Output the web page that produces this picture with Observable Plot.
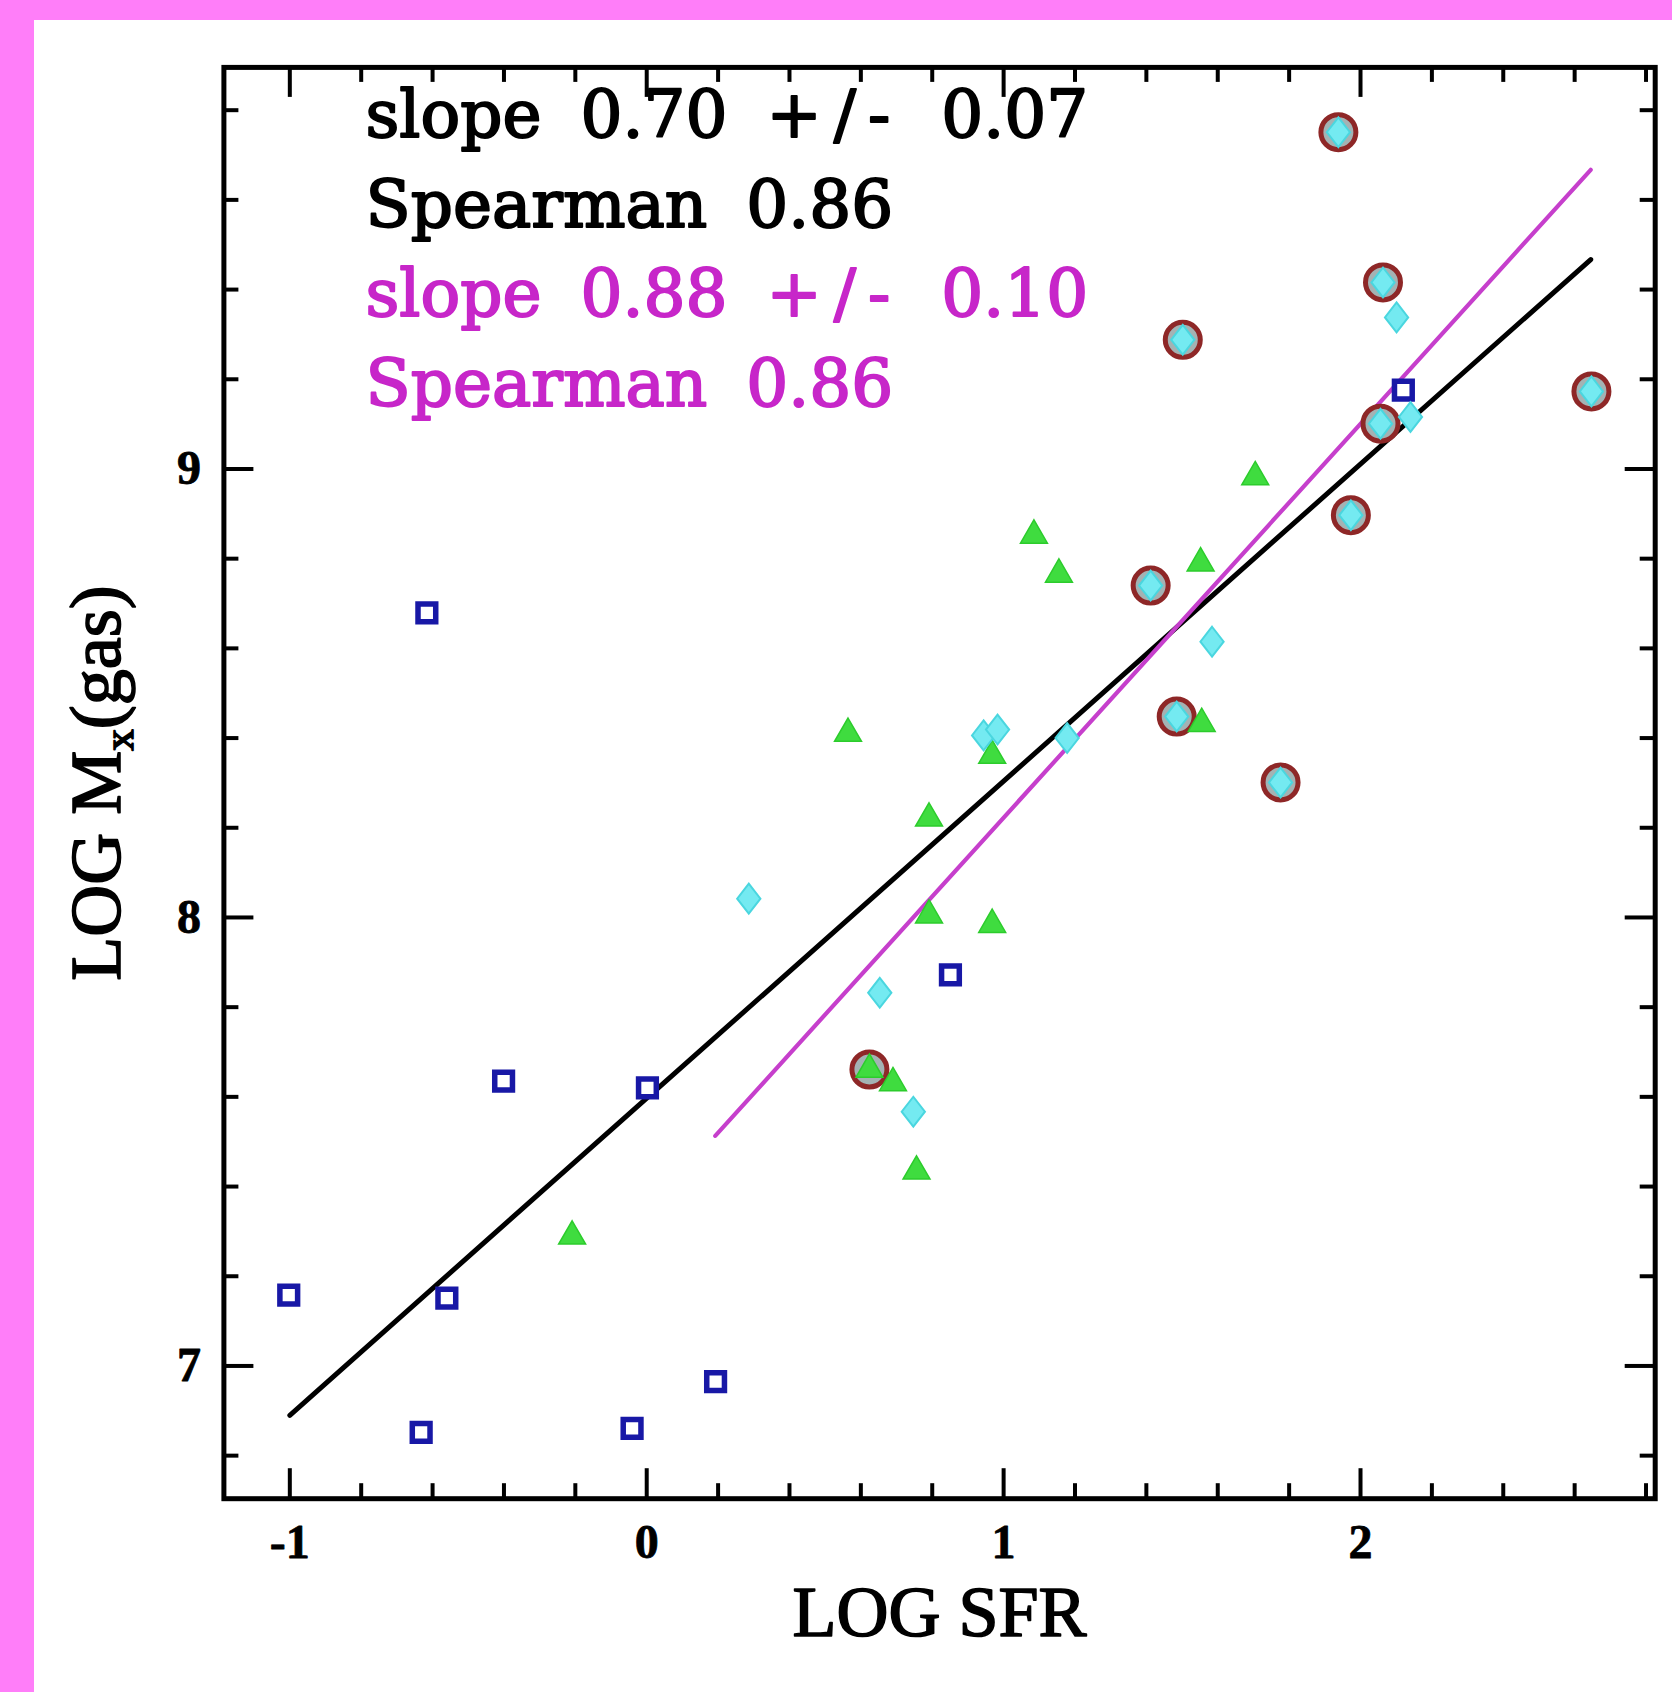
<!DOCTYPE html>
<html>
<head>
<meta charset="utf-8">
<script src="https://cdn.jsdelivr.net/npm/d3@7"></script>
<script src="https://cdn.jsdelivr.net/npm/@observablehq/plot@0.6"></script>
<style>
  html, body { margin: 0; padding: 0; background: #ff7ef9; overflow: hidden; width: 1672px; height: 1692px; }
  #page { position: absolute; left: 34px; top: 20px; width: 1638px; height: 1672px; background: #ffffff; }
</style>
</head>
<body>
<div id="page"></div>
<script>
// ---------- data ----------
const blueX = [-0.616, -1.003, -0.560, -0.401, 0.002, -0.632, -0.041, 0.193, 0.851, 2.120];
const blueY = [8.679, 7.158, 7.151, 7.635, 7.620, 6.852, 6.861, 6.965, 7.872, 9.176];

const greenX = [-0.209, 0.564, 0.968, 0.791, 0.791, 0.968, 0.624, 0.690, 0.756, 1.085, 1.155, 1.552, 1.705, 1.555];
const greenY = [7.289, 8.410, 8.361, 8.221, 8.005, 7.984, 7.661, 7.631, 7.434, 8.852, 8.765, 8.790, 8.982, 8.432];

const cyanX = [2.101, 2.140, 1.584, 1.178, 0.944, 0.983, 0.286, 0.653, 0.747,
               1.938, 2.063, 1.502, 2.647, 2.056, 1.973, 1.412, 1.485, 1.776];
const cyanY = [9.338, 9.116, 8.615, 8.400, 8.406, 8.419, 8.042, 7.832, 7.567,
               9.751, 9.416, 9.288, 9.173, 9.101, 8.897, 8.740, 8.448, 8.301];

const circledX = [1.938, 2.063, 1.502, 2.647, 2.056, 1.973, 1.412, 1.485, 1.776, 0.624];
const circledY = [9.751, 9.416, 9.288, 9.173, 9.101, 8.897, 8.740, 8.448, 8.301, 7.661];

const blackFitX = [-1.000, 2.645];
const blackFitY = [6.890, 9.467];
const magentaFitX = [0.192, 2.645];
const magentaFitY = [7.513, 9.667];

const annotBlack = ["slope 0.70 +/- 0.07", "Spearman 0.86"];
const annotMagenta = ["slope 0.88 +/- 0.10", "Spearman 0.86"];

const xTitle = "LOG SFR";
const yTitle = "LOG M\u2093(gas)";

const xMajorTicks = [-1, 0, 1, 2];
const xTickLabels = ["-1", "0", "1", "2"];
const xMinorTicks = [-0.8, -0.6, -0.4, -0.2, 0.2, 0.4, 0.6, 0.8, 1.2, 1.4, 1.6, 1.8, 2.2, 2.4, 2.6, 2.8];
const yMajorTicks = [7, 8, 9];
const yTickLabels = ["7", "8", "9"];
const yMinorTicks = [6.8, 7.2, 7.4, 7.6, 7.8, 8.2, 8.4, 8.6, 8.8, 9.2, 9.4, 9.6, 9.8];

const xDomain = [-1.1847, 2.8257];
const yDomain = [6.704, 9.8954];

// ---------- layout ----------
const W = 1638, H = 1672;
const mL = 189.4, mR = 17.3, mT = 46.9, mB = 193.8;
const frameW = W - mL - mR, frameH = H - mT - mB;
const majorLen = 30, minorLen = 15;

const toPts = (xs, ys) => xs.map((x, i) => ({x, y: ys[i]}));
const blue = toPts(blueX, blueY);
const green = toPts(greenX, greenY);
const cyan = toPts(cyanX, cyanY);
const circled = toPts(circledX, circledY);
const blackFit = toPts(blackFitX, blackFitY);
const magentaFit = toPts(magentaFitX, magentaFitY);

// a slightly tall diamond, like the reference's
const tallDiamond = {
  draw(context, size) {
    const a = Math.sqrt(size / 1.56), b = 0.78 * a;
    context.moveTo(0, -a);
    context.lineTo(b, 0);
    context.lineTo(0, a);
    context.lineTo(-b, 0);
    context.closePath();
  }
};

const tickStyle = {stroke: "black", strokeWidth: 4};
const labelFont = {fontSize: 48, fontWeight: "bold", fontFamily: "Liberation Serif", fill: "black", stroke: "black", strokeWidth: 0.8};
const titleFont = {fontSize: 72, fontFamily: "Liberation Serif", fill: "black", stroke: "black", strokeWidth: 1.6};
const annotFont = {fontSize: 66, fontFamily: "DejaVu Serif", strokeWidth: 2};

const chart = Plot.plot({
  width: W,
  height: H,
  marginLeft: mL,
  marginRight: mR,
  marginTop: mT,
  marginBottom: mB,
  style: {background: "white", overflow: "visible"},
  x: {domain: xDomain, axis: null},
  y: {domain: yDomain, axis: null},
  marks: [
    // fit lines
    Plot.line(blackFit, {x: "x", y: "y", stroke: "black", strokeWidth: 5}),
    Plot.line(magentaFit, {x: "x", y: "y", stroke: "#c63fcc", strokeWidth: 4.2}),
    // encircled points
    Plot.dot(circled, {x: "x", y: "y", r: 17.5, fill: "#a4b2b3", stroke: "#8e2727", strokeWidth: 5}),
    // green triangles
    Plot.dot(green, {x: "x", y: "y", symbol: "triangle", r: 10, fill: "#3fdc3f", stroke: "#2ccc2c", strokeWidth: 1.5}),
    // blue squares
    Plot.dot(blue, {x: "x", y: "y", symbol: "square", r: 10, fill: "white", stroke: "#1818a6", strokeWidth: 5.5}),
    // cyan diamonds
    Plot.dot(cyan, {x: "x", y: "y", symbol: tallDiamond, r: 10.5, fill: "#74eaf1", stroke: "#4ad6df", strokeWidth: 2}),

    // ticks, all four sides, pointing inwards
    Plot.tickX(xMajorTicks, {x: d => d, insetTop: frameH - majorLen, ...tickStyle}),
    Plot.tickX(xMinorTicks, {x: d => d, insetTop: frameH - minorLen, ...tickStyle}),
    Plot.tickX(xMajorTicks, {x: d => d, insetBottom: frameH - majorLen, ...tickStyle}),
    Plot.tickX(xMinorTicks, {x: d => d, insetBottom: frameH - minorLen, ...tickStyle}),
    Plot.tickY(yMajorTicks, {y: d => d, insetRight: frameW - majorLen, ...tickStyle}),
    Plot.tickY(yMinorTicks, {y: d => d, insetRight: frameW - minorLen, ...tickStyle}),
    Plot.tickY(yMajorTicks, {y: d => d, insetLeft: frameW - majorLen, ...tickStyle}),
    Plot.tickY(yMinorTicks, {y: d => d, insetLeft: frameW - minorLen, ...tickStyle}),

    Plot.frame({stroke: "black", strokeWidth: 5}),

    // tick labels
    Plot.text(xMajorTicks, {
      x: d => d, frameAnchor: "bottom", textAnchor: "middle", lineAnchor: "bottom", dy: 59,
      text: d => xTickLabels[xMajorTicks.indexOf(d)], ...labelFont
    }),
    Plot.text(yMajorTicks, {
      y: d => d, frameAnchor: "left", textAnchor: "end", lineAnchor: "middle", dx: -23,
      text: d => yTickLabels[yMajorTicks.indexOf(d)], ...labelFont
    }),

    // axis titles
    Plot.text([xTitle], {
      frameAnchor: "bottom", textAnchor: "middle", dy: 136.8, lineAnchor: "bottom", text: d => d, ...titleFont
    }),
    Plot.text([yTitle], {
      frameAnchor: "left", textAnchor: "middle", rotate: -90, dx: -103.4, lineAnchor: "bottom",
      text: d => d, ...titleFont
    }),

    // annotations
    Plot.text([annotBlack.join("\n")], {
      frameAnchor: "top-left", textAnchor: "start", lineAnchor: "bottom", lineHeight: 89.7 / 66,
      dx: 141.6, dy: 159.1, text: d => d, fill: "black", stroke: "black", ...annotFont
    }),
    Plot.text([annotMagenta.join("\n")], {
      frameAnchor: "top-left", textAnchor: "start", lineAnchor: "bottom", lineHeight: 89.7 / 66,
      dx: 141.6, dy: 338.1, text: d => d, fill: "#c726c9", stroke: "#c726c9", ...annotFont
    })
  ]
});

document.getElementById("page").appendChild(chart);

const svg = d3.select(chart);

// real subscript for the y title
svg.selectAll("text").each(function () {
  if (this.textContent === yTitle) {
    const t = d3.select(this);
    t.text(null);
    t.append("tspan").text("LOG M");
    t.append("tspan").attr("font-size", "60%").attr("dy", "0.3em").text("x");
    t.append("tspan").attr("dy", "-0.18em").text("(gas)");
  }
});

// wider spacing in the annotation lines, like the reference lettering
svg.selectAll("text").each(function () {
  const c = this.textContent;
  if (!c.includes("Spearman")) return;
  d3.select(this).style("word-spacing", "18px");
  d3.select(this).selectAll("tspan").each(function () {
    const s = this.textContent;
    const k = s.indexOf("+/-");
    if (k < 0) return;
    const el = d3.select(this);
    el.text(null);
    el.append("tspan").text(s.slice(0, k));
    el.append("tspan").style("letter-spacing", "12px").text("+/-");
    el.append("tspan").text(s.slice(k + 3));
  });
});
</script>
</body>
</html>
